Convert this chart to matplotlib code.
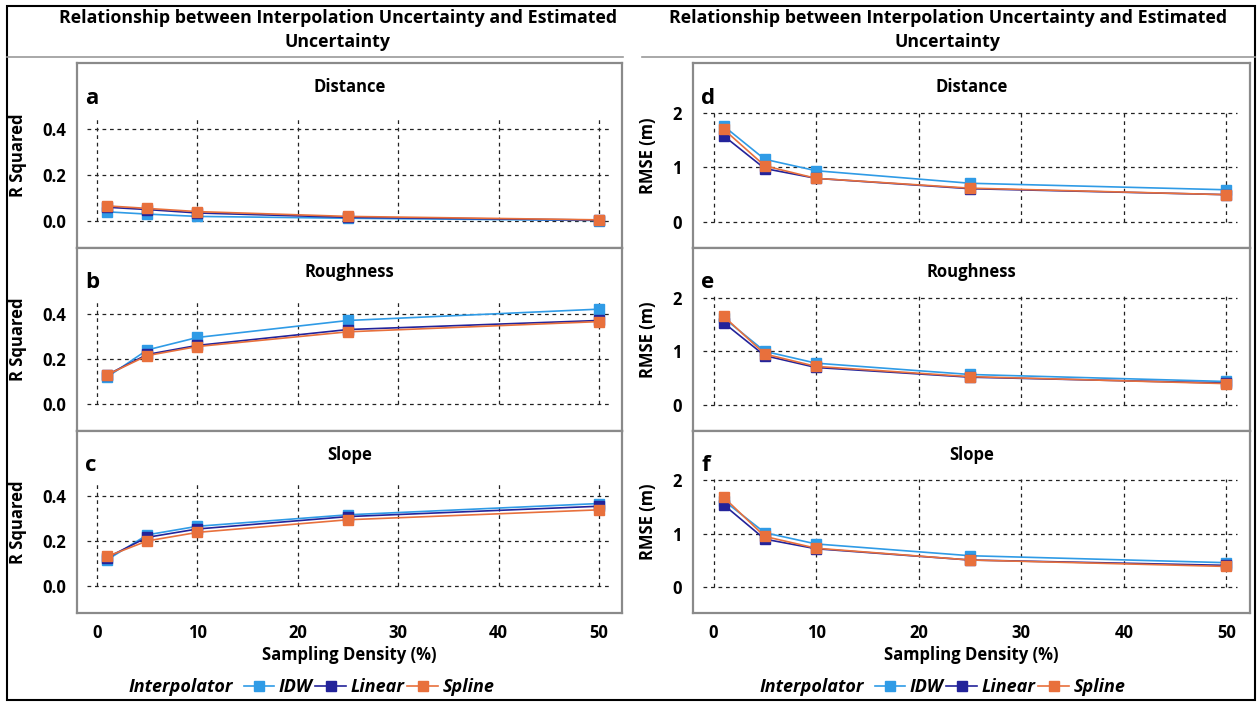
import matplotlib
matplotlib.use("Agg")
import matplotlib.pyplot as plt
from matplotlib.lines import Line2D
from matplotlib.patches import Rectangle

plt.rcParams["font.family"] = ["Open Sans", "DejaVu Sans"]
plt.rcParams["font.weight"] = "bold"

# sampling densities (%)
density = [1, 5, 10, 25, 50]
interpolators = ["IDW", "Linear", "Spline"]
colors = {"IDW": "#2f9be6", "Linear": "#23239a", "Spline": "#e8703c"}

# R squared
r2_distance = {
    "IDW": [0.040, 0.030, 0.020, 0.012, 0.002],
    "Linear": [0.060, 0.050, 0.035, 0.016, 0.004],
    "Spline": [0.066, 0.055, 0.041, 0.020, 0.005],
}
r2_roughness = {
    "IDW": [0.12, 0.24, 0.295, 0.37, 0.42],
    "Linear": [0.13, 0.22, 0.26, 0.33, 0.37],
    "Spline": [0.13, 0.215, 0.255, 0.32, 0.365],
}
r2_slope = {
    "IDW": [0.118, 0.229, 0.267, 0.318, 0.368],
    "Linear": [0.128, 0.218, 0.255, 0.310, 0.356],
    "Spline": [0.133, 0.202, 0.240, 0.296, 0.340],
}

# RMSE (m)
rmse_distance = {
    "IDW": [1.76, 1.15, 0.94, 0.71, 0.59],
    "Linear": [1.58, 0.98, 0.80, 0.61, 0.50],
    "Spline": [1.70, 1.03, 0.80, 0.62, 0.50],
}
rmse_roughness = {
    "IDW": [1.62, 1.00, 0.78, 0.57, 0.44],
    "Linear": [1.53, 0.92, 0.70, 0.52, 0.41],
    "Spline": [1.65, 0.95, 0.72, 0.53, 0.40],
}
rmse_slope = {
    "IDW": [1.62, 1.02, 0.81, 0.59, 0.46],
    "Linear": [1.54, 0.90, 0.72, 0.51, 0.41],
    "Spline": [1.68, 0.95, 0.73, 0.51, 0.39],
}

facets = ["Distance", "Roughness", "Slope"]
title = "Relationship between Interpolation Uncertainty and Estimated\nUncertainty"

W, H = 1257, 703
fig = plt.figure(figsize=(W / 100, H / 100), dpi=100)

GRID = dict(colors="#222222", linestyles=(0, (3, 3)), linewidth=0.9, zorder=0)
rows = [(63, 248), (248, 431), (431, 613)]
FS = 12


def px_axes(x0, x1, y0, y1):
    return fig.add_axes([x0 / W, 1 - y1 / H, (x1 - x0) / W, (y1 - y0) / H])


def draw_column(x0, x1, datasets, letters, ylim, yticks, yticklabels, vtop, ylabel, ylabel_x):
    for i, ((y0, y1), data, letter, facet) in enumerate(zip(rows, datasets, letters, facets)):
        ax = px_axes(x0, x1, y0, y1)
        ax.set_xlim(-2, 52.3)
        ax.set_ylim(*ylim)
        ax.hlines(yticks, -1, 51, **GRID)
        ax.vlines([0, 10, 20, 30, 40, 50], yticks[0], vtop, **GRID)
        for name in interpolators:
            ax.plot(density, data[name], color=colors[name], lw=1.2, marker="s",
                    markersize=6.5, zorder=3)
        ax.set_yticks(yticks)
        ax.set_yticklabels(yticklabels, fontsize=FS, fontweight="bold")
        ax.set_xticks([0, 10, 20, 30, 40, 50])
        ax.tick_params(length=0, pad=8)
        if i < 2:
            ax.set_xticklabels([])
        else:
            ax.tick_params(axis="x", labelsize=FS, pad=8)
            for t in ax.get_xticklabels():
                t.set_fontweight("bold")
            ax.set_xlabel("Sampling Density (%)", fontsize=FS, fontweight="bold", labelpad=3)
        for s in ax.spines.values():
            s.set_color("#8a8a8a")
            s.set_linewidth(1.6)
        ax.text(0.5, 0.87, facet, transform=ax.transAxes, ha="center", va="center",
                fontsize=FS, fontweight="bold")
        ax.text(0.015, 0.81, letter, transform=ax.transAxes, ha="left", va="center",
                fontsize=16, fontweight="bold")
        ax.set_ylabel(ylabel, fontsize=FS, fontweight="bold")
        ax.yaxis.set_label_coords((ylabel_x - x0) / (x1 - x0), 0.5)


draw_column(77, 622, [r2_distance, r2_roughness, r2_slope], ["a", "b", "c"],
            (-0.118, 0.69), [0.0, 0.2, 0.4], ["0.0", "0.2", "0.4"], 0.46,
            "R Squared", 27)
draw_column(693, 1250, [rmse_distance, rmse_roughness, rmse_slope], ["d", "e", "f"],
            (-0.48, 2.92), [0, 1, 2], ["0", "1", "2"], 2.02,
            "RMSE (m)", 657)

# column titles and separator lines
for cx, lx0, lx1 in [(338, 7, 623), (948, 642, 1255)]:
    fig.text(cx / W, 1 - 30 / H, title, ha="center", va="center", fontsize=12.8,
             fontweight="bold", linespacing=1.45)
    fig.add_artist(Line2D([lx0 / W, lx1 / W], [1 - 57 / H, 1 - 57 / H],
                          color="#9a9a9a", lw=1.2))

# legends
handles = [Line2D([], [], color=colors[n], lw=1.2, marker="s", markersize=6.5)
           for n in interpolators]
for tx, lx in [(181, 369), (812, 1000)]:
    fig.text(tx / W, 1 - 687 / H, "Interpolator", ha="center", va="center",
             fontsize=13, fontweight="bold", style="italic")
    fig.legend(handles, interpolators, loc="center", ncol=3,
               bbox_to_anchor=(lx / W, 1 - 687 / H), frameon=False,
               handlelength=1.7, handletextpad=0.25, columnspacing=0.15,
               prop=dict(size=13, weight="bold", style="italic"))

# outer frame
fig.add_artist(Rectangle((7 / W, 1 - 700 / H), 1248 / W, 694 / H, transform=fig.transFigure,
                         fill=False, edgecolor="black", lw=1.5))

fig.savefig("out.png", dpi=100)
